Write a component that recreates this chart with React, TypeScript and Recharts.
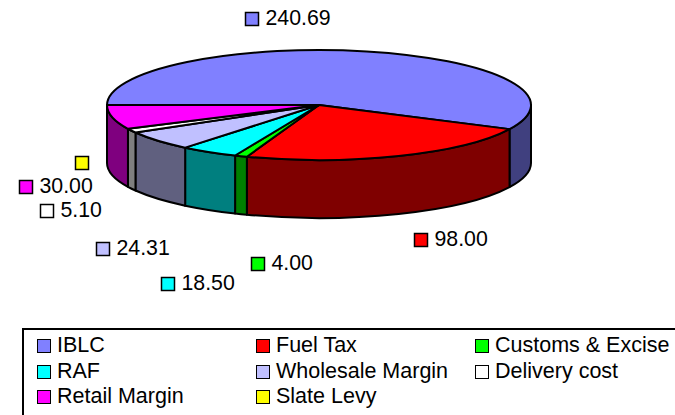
import { Legend, Pie, PieChart } from "recharts";

const categories = ["IBLC", "Fuel Tax", "Customs & Excise", "RAF", "Wholesale Margin", "Delivery cost", "Retail Margin", "Slate Levy"];
const values = [240.69, 98.0, 4.0, 18.5, 24.31, 5.1, 30.0, 0];
const topColors = ["#8080ff", "#ff0000", "#00ff00", "#00ffff", "#c0c0ff", "#ffffff", "#ff00ff", "#ffff00"];
const wallColors = ["#40407f", "#7f0000", "#007f00", "#007f7f", "#60607f", "#7f7f7f", "#7f007f", "#7f7f00"];

// where Excel left each data label, by hand
const labelBoxes = [
  [252, 19],
  [421, 240],
  [258, 264],
  [168, 284],
  [103, 249],
  [47, 211],
  [26, 187],
  [82, 163],
];

const data = categories.map((name, i) => ({ name, value: values[i], fill: topColors[i] }));

const SQUASH = 55 / 212;
const DEPTH = 58;
const RAD = Math.PI / 180;

// pie angles run counter-clockwise with y up, flatten them on to the ellipse
function rim(cx: number, cy: number, r: number, deg: number) {
  return [cx + r * Math.cos(deg * RAD), cy - r * SQUASH * Math.sin(deg * RAD)];
}

function Slice3D(props: any) {
  const { cx, cy, outerRadius: r, startAngle, endAngle, index } = props;
  const ry = r * SQUASH;
  const [sx, sy] = rim(cx, cy, r, startAngle);
  const [ex, ey] = rim(cx, cy, r, endAngle);
  const large = Math.abs(startAngle - endAngle) > 180 ? 1 : 0;

  // only the part of the rim facing the viewer (angles -180..0) gets a wall
  const wallStart = Math.min(startAngle, 0);
  const wallTo = Math.max(endAngle, -180);
  let wall = null;
  if (wallStart > wallTo) {
    const [ax, ay] = rim(cx, cy, r, wallStart);
    const [bx, by] = rim(cx, cy, r, wallTo);
    wall = (
      <path
        d={`M${ax},${ay} A${r},${ry} 0 0 1 ${bx},${by} L${bx},${by + DEPTH} A${r},${ry} 0 0 0 ${ax},${ay + DEPTH} Z`}
        fill={wallColors[index]}
        stroke="#000"
        strokeWidth={2}
        strokeLinejoin="round"
      />
    );
  }

  return (
    <g>
      {wall}
      <path
        d={`M${cx},${cy} L${sx},${sy} A${r},${ry} 0 ${large} 1 ${ex},${ey} Z`}
        fill={topColors[index]}
        stroke="#000"
        strokeWidth={2}
        strokeLinejoin="round"
      />
    </g>
  );
}

function ValueLabel(props: any) {
  const { index, value } = props;
  const [x, y] = labelBoxes[index];
  return (
    <g>
      <rect x={x - 6.5} y={y - 6.5} width={13} height={13} fill={topColors[index]} stroke="#000" strokeWidth={1.5} />
      {value > 0 ? (
        <text x={x + 13.5} y={y + 6} fontSize={21.3} fill="#000" fontFamily="Liberation Sans">
          {value.toFixed(2)}
        </text>
      ) : null}
    </g>
  );
}

// the frame runs off the image, only its top and left edges show
function LegendBox({ payload }: any) {
  return (
    <div
      style={{
        width: 653,
        height: 87,
        borderTop: "2px solid #000",
        borderLeft: "2px solid #000",
        boxSizing: "border-box",
        position: "relative",
        fontFamily: "Liberation Sans",
        fontSize: 21.5,
        lineHeight: "24px",
        color: "#000",
        background: "#fff",
      }}
    >
      {(payload ?? []).map((entry: any, i: number) => (
        <div
          key={entry.value}
          style={{ position: "absolute", left: 13 + (i % 3) * 219, top: 3 + Math.floor(i / 3) * 25.5, whiteSpace: "nowrap" }}
        >
          <span
            style={{
              display: "inline-block",
              width: 12,
              height: 12,
              border: "1.5px solid #000",
              background: entry.color,
              marginRight: 6,
              verticalAlign: -1,
            }}
          />
          {entry.value}
        </div>
      ))}
    </div>
  );
}

export default function App() {
  return (
    <div style={{ position: "absolute", left: 0, top: 0, width: 675, height: 415, overflow: "hidden" }}>
      <PieChart width={675} height={415} margin={{ top: 0, right: 0, bottom: 0, left: 0 }}>
        <Pie
          data={data}
          dataKey="value"
          nameKey="name"
          cx={319}
          cy={105}
          outerRadius={212}
          startAngle={180}
          endAngle={-180}
          paddingAngle={0}
          stroke="#000"
          shape={Slice3D}
          label={ValueLabel}
          labelLine={false}
          isAnimationActive={false}
        />
        <Legend
          content={<LegendBox />}
          itemSorter={null}
          layout="vertical"
          wrapperStyle={{ position: "absolute", left: 22, top: 328, width: 653, height: 87 }}
        />
      </PieChart>
    </div>
  );
}
